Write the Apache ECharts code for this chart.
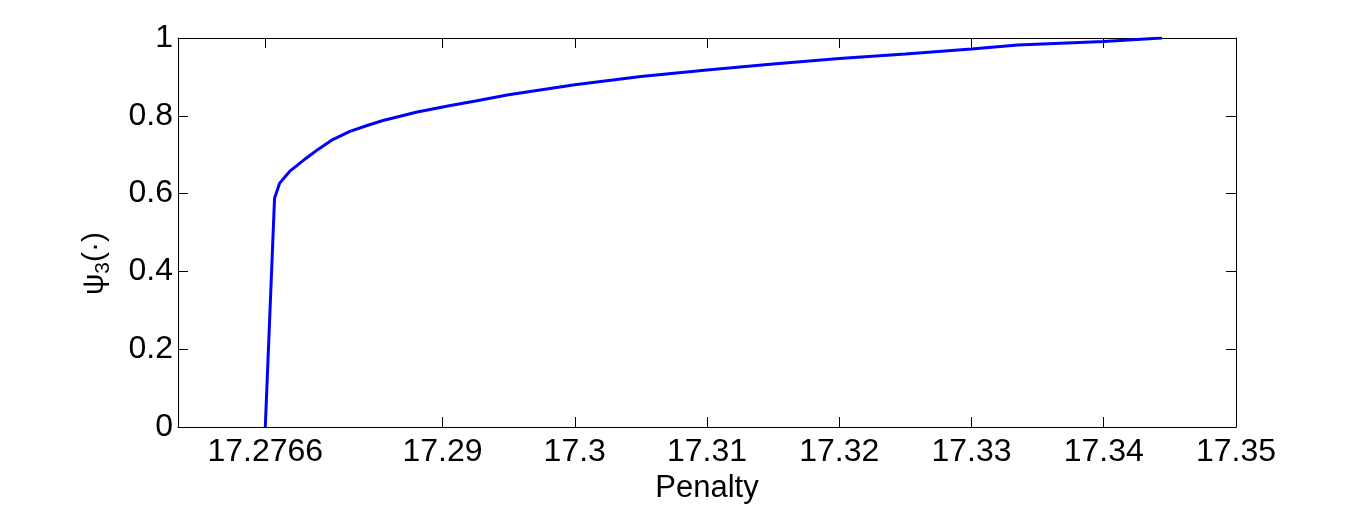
<!DOCTYPE html>
<html>
<head>
<meta charset="utf-8">
<script src="https://cdn.jsdelivr.net/npm/echarts@6/dist/echarts.min.js"></script>
<style>
html,body{margin:0;padding:0;background:#fff;}
#chart{width:1366px;height:505px;}
</style>
</head>
<body>
<div id="chart"></div>
<script>
// Penalty values (x) and psi_3 values (y)
const penalty = [17.2766, 17.2773, 17.27769, 17.27844, 17.27969, 17.28056, 17.2817, 17.2830, 17.2843, 17.2855, 17.2868, 17.2880, 17.2905, 17.2925, 17.295, 17.2975, 17.300, 17.305, 17.310, 17.315, 17.320, 17.325, 17.330, 17.3335, 17.340, 17.3444];
const psi3 = [0, 0.588, 0.627, 0.657, 0.691, 0.713, 0.739, 0.760, 0.775, 0.788, 0.799, 0.809, 0.826, 0.838, 0.854, 0.867, 0.880, 0.901, 0.918, 0.933, 0.947, 0.959, 0.972, 0.982, 0.991, 1.0];
const xTicks = [17.2766, 17.29, 17.30, 17.31, 17.32, 17.33, 17.34, 17.35];
const yTicks = [0, 0.2, 0.4, 0.6, 0.8, 1];

const chart = echarts.init(document.getElementById('chart'), null, {renderer: 'canvas'});
const FONT = 'Liberation Sans, Arial, sans-serif';
const fmt = v => String(+(+v).toFixed(4));
const lineStyle = {color: '#000', width: 1};

chart.setOption({
  animation: false,
  backgroundColor: '#fff',
  grid: {left: 178, right: 130, top: 38, bottom: 78, containLabel: false, outerBoundsMode: 'none'},
  xAxis: [{
    type: 'value', min: 17.27, max: 17.35, position: 'bottom',
    name: 'Penalty', nameLocation: 'middle', nameGap: 44,
    nameTextStyle: {fontFamily: FONT, fontSize: 31, color: '#000'},
    axisLine: {show: true, onZero: false, lineStyle},
    axisTick: {show: true, inside: true, length: 10, customValues: xTicks, lineStyle},
    axisLabel: {customValues: xTicks, formatter: fmt, fontFamily: FONT, fontSize: 32, color: '#000', margin: 9},
    splitLine: {show: false}
  }, {
    type: 'value', min: 17.27, max: 17.35, position: 'top',
    axisLine: {show: true, onZero: false, lineStyle},
    axisTick: {show: true, inside: true, length: 10, customValues: xTicks, lineStyle},
    axisLabel: {show: false},
    splitLine: {show: false}
  }],
  yAxis: [{
    type: 'value', min: 0, max: 1, interval: 0.2, position: 'left',
    name: '{p|ψ}{s|3}{p|(·)}', nameLocation: 'middle', nameGap: 64,
    nameTextStyle: {
      color: '#000',
      padding: [0, 62, 0, 0],
      rich: {
        p: {fontFamily: FONT, fontSize: 30, color: '#000', verticalAlign: 'middle', lineHeight: 38},
        s: {fontFamily: FONT, fontSize: 21, color: '#000', verticalAlign: 'bottom', lineHeight: 38}
      }
    },
    axisLine: {show: true, onZero: false, lineStyle},
    axisTick: {show: true, inside: true, length: 10, lineStyle},
    axisLabel: {formatter: fmt, fontFamily: FONT, fontSize: 32, color: '#000', margin: 5},
    splitLine: {show: false}
  }, {
    type: 'value', min: 0, max: 1, interval: 0.2, position: 'right',
    axisLine: {show: true, onZero: false, lineStyle},
    axisTick: {show: true, inside: true, length: 10, lineStyle},
    axisLabel: {show: false},
    splitLine: {show: false}
  }],
  series: [{
    type: 'line',
    xAxisIndex: 0, yAxisIndex: 0,
    data: penalty.map((x, i) => [x, psi3[i]]),
    showSymbol: false,
    symbol: 'none',
    lineStyle: {color: '#0000ff', width: 3},
    silent: true
  }]
});
</script>
</body>
</html>
